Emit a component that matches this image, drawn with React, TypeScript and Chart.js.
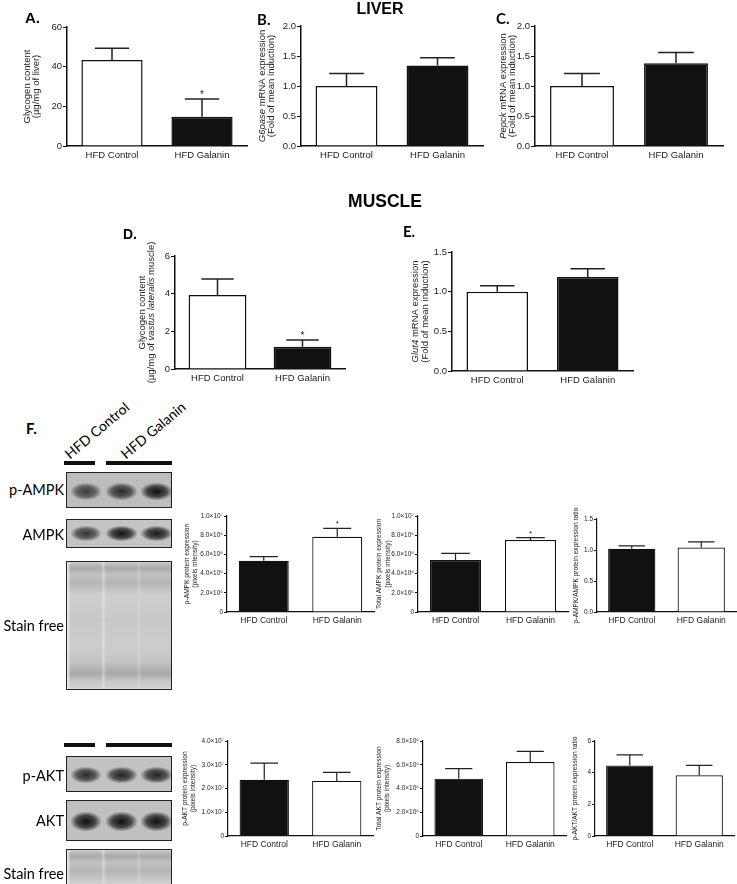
import React, { useEffect, useRef } from "react";
import { Chart, registerables } from "chart.js";
Chart.register(...registerables);

const FONT = '"Liberation Sans", Arial, sans-serif';
const LATO = 'Lato, "Noto Sans", sans-serif';

// ---------- data ----------
const categories = ["HFD Control", "HFD Galanin"];

const liverGlycogen = [43.3, 14.8];
const liverGlycogenSem = [6.0, 8.9];
const liverGlycogenSig = [false, true];
const liverGlycogenTicks = ["0", "20", "40", "60"];

const g6paseExpr = [1.0, 1.34];
const g6paseSem = [0.21, 0.13];

const pepckExpr = [1.0, 1.38];
const pepckSem = [0.21, 0.18];
const foldTicks2 = ["0.0", "0.5", "1.0", "1.5", "2.0"];

const muscleGlycogen = [3.93, 1.18];
const muscleGlycogenSem = [0.85, 0.36];
const muscleGlycogenSig = [false, true];
const muscleGlycogenTicks = ["0", "2", "4", "6"];

const glut4Expr = [1.0, 1.185];
const glut4Sem = [0.075, 0.105];
const foldTicks15 = ["0.0", "0.5", "1.0", "1.5"];

const pAmpk = [5.34e6, 7.84e6];
const pAmpkSem = [0.42e6, 0.88e6];
const pAmpkSig = [false, true];
const totalAmpk = [5.42e6, 7.5e6];
const totalAmpkSem = [0.68e6, 0.24e6];
const totalAmpkSig = [false, true];
const ampkTicks = ["0", "2.0×10⁶", "4.0×10⁶", "6.0×10⁶", "8.0×10⁶", "1.0×10⁷"];
const ampkRatio = [1.02, 1.04];
const ampkRatioSem = [0.045, 0.09];

const pAkt = [2.37e7, 2.32e7];
const pAktSem = [0.70e7, 0.36e7];
const pAktTicks = ["0", "1.0×10⁷", "2.0×10⁷", "3.0×10⁷", "4.0×10⁷"];
const totalAkt = [4.83e6, 6.23e6];
const totalAktSem = [0.84e6, 0.9e6];
const totalAktTicks = ["0", "2.0×10⁶", "4.0×10⁶", "6.0×10⁶", "8.0×10⁶"];
const aktRatio = [4.46, 3.83];
const aktRatioSem = [0.66, 0.63];
const aktRatioTicks = ["0", "2", "4", "6"];

const noSig = [false, false];
const WHITE = "#ffffff";
const BLACK = "#111111";

type Seg = { t: string; i?: boolean };
type Cfg = {
  values: number[];
  sem: number[];
  sig: boolean[];
  colors: string[];
  max: number;
  step: number;
  ticks: string[];
  axisX: number;
  top: number;
  bottom: number;
  right: number;
  title: Seg[][];
  titleOff: number[];
  small: boolean;
};

const big = (o: any): Cfg => ({ ...o, small: false });
const sm = (o: any): Cfg => ({ ...o, small: true });

const charts: Cfg[] = [
  big({ values: liverGlycogen, sem: liverGlycogenSem, sig: liverGlycogenSig, colors: [WHITE, BLACK], max: 60, step: 20, ticks: liverGlycogenTicks,
    axisX: 67, top: 27, bottom: 146, right: 247, title: [[{ t: "Glycogen content" }], [{ t: "(µg/mg of liver)" }]], titleOff: [40, 31] }),
  big({ values: g6paseExpr, sem: g6paseSem, sig: noSig, colors: [WHITE, BLACK], max: 2, step: 0.5, ticks: foldTicks2,
    axisX: 301, top: 26, bottom: 146, right: 483, title: [[{ t: "G6pase", i: true }, { t: " mRNA expression" }], [{ t: "(Fold of mean induction)" }]], titleOff: [39, 30] }),
  big({ values: pepckExpr, sem: pepckSem, sig: noSig, colors: [WHITE, BLACK], max: 2, step: 0.5, ticks: foldTicks2,
    axisX: 535, top: 26, bottom: 146, right: 723, title: [[{ t: "Pepck", i: true }, { t: " mRNA expression" }], [{ t: "(Fold of mean induction)" }]], titleOff: [32, 23] }),
  big({ values: muscleGlycogen, sem: muscleGlycogenSem, sig: muscleGlycogenSig, colors: [WHITE, BLACK], max: 6, step: 2, ticks: muscleGlycogenTicks,
    axisX: 175, top: 256, bottom: 369, right: 345, title: [[{ t: "Glycogen content" }], [{ t: "(µg/mg of " }, { t: "vastus lateralis", i: true }, { t: " muscle)" }]], titleOff: [33, 24] }),
  big({ values: glut4Expr, sem: glut4Sem, sig: noSig, colors: [WHITE, BLACK], max: 1.5, step: 0.5, ticks: foldTicks15,
    axisX: 452, top: 252, bottom: 371, right: 633, title: [[{ t: "Glut4", i: true }, { t: " mRNA expression" }], [{ t: "(Fold of mean induction)" }]], titleOff: [37, 27] }),
  sm({ values: pAmpk, sem: pAmpkSem, sig: pAmpkSig, colors: [BLACK, WHITE], max: 1e7, step: 2e6, ticks: ampkTicks,
    axisX: 227, top: 516, bottom: 612, right: 374, title: [[{ t: "p-AMPK protein expression" }], [{ t: "(pixels intensity)" }]], titleOff: [40, 32] }),
  sm({ values: totalAmpk, sem: totalAmpkSem, sig: totalAmpkSig, colors: [BLACK, WHITE], max: 1e7, step: 2e6, ticks: ampkTicks,
    axisX: 418, top: 516, bottom: 612, right: 568, title: [[{ t: "Total AMPK protein expression" }], [{ t: "(pixels intensity)" }]], titleOff: [39, 30] }),
  sm({ values: ampkRatio, sem: ampkRatioSem, sig: noSig, colors: [BLACK, WHITE], max: 1.5, step: 0.5, ticks: foldTicks15,
    axisX: 597, top: 519, bottom: 612, right: 736, title: [[{ t: "p-AMPK/AMPK protein expression ratio" }]], titleOff: [21] }),
  sm({ values: pAkt, sem: pAktSem, sig: noSig, colors: [BLACK, WHITE], max: 4e7, step: 1e7, ticks: pAktTicks,
    axisX: 228, top: 741, bottom: 836, right: 373, title: [[{ t: "p-AKT protein expression" }], [{ t: "(pixels intensity)" }]], titleOff: [43, 35] }),
  sm({ values: totalAkt, sem: totalAktSem, sig: noSig, colors: [BLACK, WHITE], max: 8e6, step: 2e6, ticks: totalAktTicks,
    axisX: 423, top: 741, bottom: 836, right: 566, title: [[{ t: "Total AKT protein expression" }], [{ t: "(pixels intensity)" }]], titleOff: [44, 36] }),
  sm({ values: aktRatio, sem: aktRatioSem, sig: noSig, colors: [BLACK, WHITE], max: 6, step: 2, ticks: aktRatioTicks,
    axisX: 595, top: 741, bottom: 836, right: 734, title: [[{ t: "p-AKT/AKT protein expression ratio" }]], titleOff: [20] }),
];

const PAD_TOP = 22;
const LEFT_SPACE = 60;
const X_H = 22;
const PAD_BOTTOM = 6;
const PAD_RIGHT = 4;

function box(c: Cfg) {
  const left = c.axisX - LEFT_SPACE;
  const top = c.top - PAD_TOP;
  const width = c.right - left + PAD_RIGHT;
  const height = c.bottom - top + X_H + PAD_BOTTOM;
  return { left, top, width, height };
}

function overlay(c: Cfg) {
  const titleSize = c.small ? 6.6 : 9.5;
  return {
    id: "overlay",
    afterDatasetsDraw(chart: any) {
      const ctx = chart.ctx as CanvasRenderingContext2D;
      const meta = chart.getDatasetMeta(0);
      const ys = chart.scales.y;
      ctx.save();
      ctx.strokeStyle = "#222";
      ctx.lineWidth = c.small ? 1.2 : 1.5;
      c.values.forEach((v, i) => {
        const el = meta.data[i];
        const x = el.x;
        const yb = ys.getPixelForValue(v);
        const yt = ys.getPixelForValue(v + c.sem[i]);
        const half = el.width * 0.28;
        ctx.beginPath();
        ctx.moveTo(x, yb);
        ctx.lineTo(x, yt);
        ctx.moveTo(x - half, yt);
        ctx.lineTo(x + half, yt);
        ctx.stroke();
        if (c.sig[i]) {
          ctx.fillStyle = "#222";
          ctx.font = `${c.small ? 8 : 10}px ${FONT}`;
          ctx.textAlign = "center";
          ctx.textBaseline = "alphabetic";
          ctx.fillText("*", x, yt - (c.small ? 2 : 1));
        }
      });
      const ca = chart.chartArea;
      const cy = (ca.top + ca.bottom) / 2;
      ctx.fillStyle = "#222";
      c.title.forEach((line, li) => {
        ctx.save();
        ctx.translate(ca.left - c.titleOff[li], cy);
        ctx.rotate(-Math.PI / 2);
        let total = 0;
        line.forEach((s) => {
          ctx.font = `${s.i ? "italic " : ""}${titleSize}px ${FONT}`;
          total += ctx.measureText(s.t).width;
        });
        let px = -total / 2;
        ctx.textBaseline = "middle";
        ctx.textAlign = "left";
        line.forEach((s) => {
          ctx.font = `${s.i ? "italic " : ""}${titleSize}px ${FONT}`;
          ctx.fillText(s.t, px, 0);
          px += ctx.measureText(s.t).width;
        });
        ctx.restore();
      });
      ctx.restore();
    },
  };
}

function makeChart(canvas: HTMLCanvasElement, c: Cfg) {
  const aw = c.small ? 1.2 : 1.5;
  return new Chart(canvas, {
    type: "bar",
    data: {
      labels: categories,
      datasets: [
        {
          data: c.values,
          backgroundColor: c.colors,
          borderColor: "#111",
          borderWidth: c.small ? 1.2 : 1.5,
          barPercentage: 0.68,
          categoryPercentage: 1,
        },
      ],
    },
    options: {
      animation: false,
      responsive: false,
      maintainAspectRatio: false,
      layout: { padding: { top: PAD_TOP, bottom: PAD_BOTTOM, left: 0, right: PAD_RIGHT } },
      plugins: { legend: { display: false }, tooltip: { enabled: false } },
      scales: {
        x: {
          grid: { display: false, drawTicks: false, tickLength: 0 },
          border: { display: true, color: "#111", width: aw },
          ticks: { color: "#222", font: { family: FONT, size: c.small ? 8.5 : 9.5 }, padding: 4, maxRotation: 0, autoSkip: false },
          afterFit: (s: any) => { s.height = X_H; },
        },
        y: {
          min: 0,
          max: c.max,
          grid: { drawOnChartArea: false, drawTicks: true, tickLength: c.small ? 3 : 4, color: "#111", lineWidth: 1 },
          border: { display: true, color: "#111", width: aw },
          ticks: {
            stepSize: c.step,
            color: "#222",
            padding: 1,
            font: { family: FONT, size: c.small ? 6.5 : 9.5 },
            callback: (_v: any, i: number) => c.ticks[i],
          },
          afterFit: (s: any) => { s.width = LEFT_SPACE; },
        },
      },
    } as any,
    plugins: [overlay(c)],
  });
}

// ---------- blot drawing (decorative, not data) ----------
const LANES = [[4, 30], [39, 31], [74, 31]];

function Band({ top, h, dark }: { top: number; h: number; dark: number[] }) {
  return (
    <>
      {LANES.map(([l, w], i) => (
        <div key={i} style={{
          position: "absolute", left: l, width: w, top, height: h,
          background: `radial-gradient(ellipse at 50% 50%, rgba(15,15,15,${dark[i]}) 0%, rgba(30,30,30,${dark[i] * 0.75}) 45%, rgba(60,60,60,0) 75%)`,
        }} />
      ))}
    </>
  );
}

function Blot({ top, h, bandTop, bandH, dark, bg }: any) {
  return (
    <div style={{ position: "absolute", left: 66, top, width: 106, height: h, border: "1.3px solid #222", background: bg, boxSizing: "border-box", overflow: "hidden" }}>
      <Band top={bandTop} h={bandH} dark={dark} />
    </div>
  );
}

function StainFree({ top, h }: { top: number; h: number }) {
  return (
    <div style={{ position: "absolute", left: 66, top, width: 106, height: h, border: "1.3px solid #222", background: "#ececec", boxSizing: "border-box", overflow: "hidden" }}>
      {LANES.map(([l, w], i) => (
        <div key={i} style={{
          position: "absolute", left: l - 2, width: w + 4, top: 0, height: "100%",
          background: "linear-gradient(to bottom, #c8c8c8 0%, #a8a8a8 5%, #c4c4c4 10%, #b4b4b4 16%, #cfcfcf 26%, #c8c8c8 45%, #cdcdcd 65%, #c6c6c6 78%, #a8a8a8 88%, #c8c8c8 94%, #d0d0d0 100%)",
          filter: "blur(1px)",
        }} />
      ))}
    </div>
  );
}

const txt = (s: any): any => ({ position: "absolute", whiteSpace: "nowrap", lineHeight: 1, color: "#000", ...s });

export default function App() {
  const refs = useRef<(HTMLCanvasElement | null)[]>([]);
  useEffect(() => {
    const made = charts.map((c, i) => makeChart(refs.current[i] as HTMLCanvasElement, c));
    return () => made.forEach((m) => m.destroy());
  }, []);

  return (
    <div style={{ position: "absolute", left: 0, top: 0, width: 737, height: 884, background: "#fff", overflow: "hidden" }}>
      {charts.map((c, i) => {
        const b = box(c);
        return (
          <canvas key={i} ref={(el) => { refs.current[i] = el; }} width={b.width} height={b.height}
            style={{ position: "absolute", left: b.left, top: b.top, width: b.width, height: b.height }} />
        );
      })}

      <div style={txt({ left: 25, top: 9, font: `bold 15px ${FONT}` })}>A.</div>
      <div style={txt({ left: 257, top: 10, font: `bold 15px ${LATO}` })}>B.</div>
      <div style={txt({ left: 496, top: 9, font: `bold 15px ${LATO}` })}>C.</div>
      <div style={txt({ left: 123, top: 226, font: `bold 14px ${FONT}` })}>D.</div>
      <div style={txt({ left: 403, top: 222, font: `bold 15px ${LATO}` })}>E.</div>
      <div style={txt({ left: 26, top: 419, font: `bold 15px ${LATO}` })}>F.</div>

      <div style={txt({ left: 380, top: 0, transform: "translateX(-50%)", font: `bold 16px ${FONT}` })}>LIVER</div>
      <div style={txt({ left: 385, top: 191, transform: "translateX(-50%)", font: `bold 17.5px ${FONT}` })}>MUSCLE</div>

      {/* Western blot group 1 */}
      <div style={txt({ left: 72, top: 445, font: `14px ${LATO}`, transformOrigin: "0% 100%", transform: "rotate(-40deg)" })}>HFD Control</div>
      <div style={txt({ left: 128, top: 445, font: `14px ${LATO}`, transformOrigin: "0% 100%", transform: "rotate(-40deg)" })}>HFD Galanin</div>
      <div style={{ position: "absolute", left: 64, top: 461, width: 31, height: 4, background: "#111" }} />
      <div style={{ position: "absolute", left: 106, top: 461, width: 66, height: 4, background: "#111" }} />
      <Blot top={472} h={36} bandTop={10} bandH={17} dark={[0.75, 0.85, 1]} bg="#bdbdbd" />
      <Blot top={519} h={29} bandTop={6} bandH={15} dark={[0.8, 1, 0.95]} bg="#c4c4c4" />
      <StainFree top={561} h={129} />
      <div style={txt({ right: 737 - 64, top: 481, font: `14.5px ${LATO}` })}>p-AMPK</div>
      <div style={txt({ right: 737 - 64, top: 526, font: `14.5px ${LATO}` })}>AMPK</div>
      <div style={txt({ right: 737 - 64, top: 617, font: `14.5px ${LATO}` })}>Stain free</div>

      {/* Western blot group 2 */}
      <div style={{ position: "absolute", left: 64, top: 743, width: 31, height: 4, background: "#111" }} />
      <div style={{ position: "absolute", left: 106, top: 743, width: 66, height: 4, background: "#111" }} />
      <Blot top={756} h={36} bandTop={10} bandH={16} dark={[0.85, 0.9, 0.9]} bg="#c2c2c2" />
      <Blot top={800} h={41} bandTop={11} bandH={19} dark={[1, 1, 1]} bg="#c0c0c0" />
      <StainFree top={849} h={129} />
      <div style={txt({ right: 737 - 64, top: 767, font: `14.5px ${LATO}` })}>p-AKT</div>
      <div style={txt({ right: 737 - 64, top: 812, font: `14.5px ${LATO}` })}>AKT</div>
      <div style={txt({ right: 737 - 64, top: 865, font: `14.5px ${LATO}` })}>Stain free</div>
    </div>
  );
}
